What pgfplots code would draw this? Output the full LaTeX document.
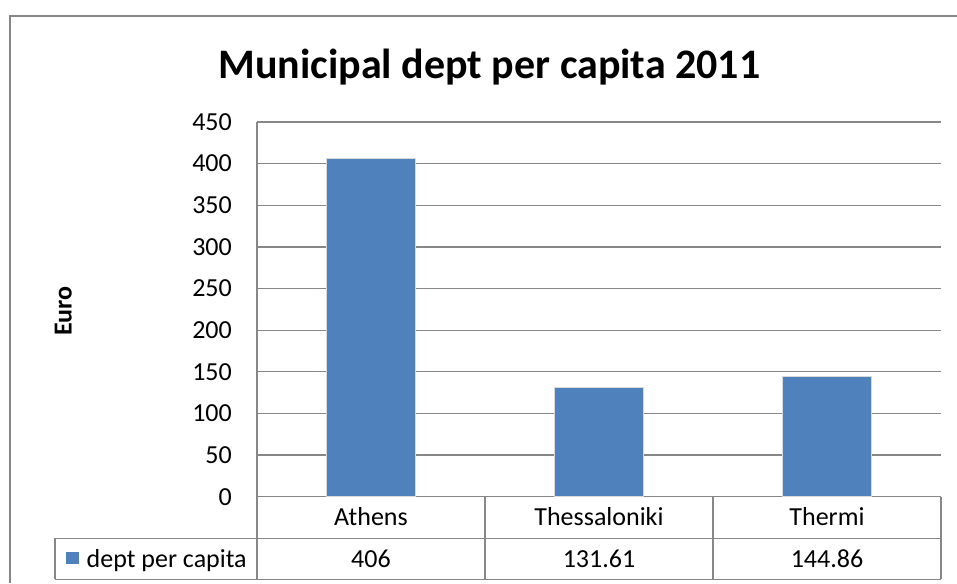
\documentclass[border=0pt]{standalone}
\usepackage{fontspec}
\setmainfont{Carlito}
\usepackage{pgfplots}
\pgfplotsset{compat=1.18}
\definecolor{barblue}{HTML}{4F81BD}
\definecolor{gridgray}{HTML}{878787}
\begin{document}
\begin{tikzpicture}[x=1pt,y=1pt]
\fill[white] (0,0) rectangle (957,583);
\draw[gridgray, line width=2pt] (10,0) -- (10,566.5) -- (957,566.5);
\node[font=\fontsize{42}{50}\selectfont\bfseries, anchor=base, inner sep=0pt] at (489.5,504.7) {Municipal dept per capita 2011};
\begin{axis}[at={(257pt,86.3pt)}, anchor=south west, scale only axis,
  width=684pt, height=374.7pt,
  xmin=-0.5, xmax=2.5, ymin=0, ymax=450, ytick={0,50,...,450},
  xtick={0,1,2}, xticklabels={Athens,Thessaloniki,Thermi},
  axis x line*=bottom, axis y line*=left,
  axis line style={gridgray, line width=1.3pt, -},
  ymajorgrids, grid style={gridgray, line width=1.3pt},
  major tick length=0pt,
  tick label style={font=\fontsize{26}{30}\selectfont},
  /pgf/number format/assume math mode=true,
  yticklabel style={anchor=east, inner sep=0pt, xshift=-25pt},
  xticklabel style={anchor=base, inner sep=0pt, yshift=-28.3pt},
  clip=false]
\addplot[ybar, bar width=89pt, fill=barblue, draw=black!15, line width=1pt]
  coordinates {(0,406) (1,131.61) (2,144.86)};
\end{axis}
% data table
\draw[gridgray, line width=1.3pt] (55,44.7) -- (941,44.7);
\draw[gridgray, line width=1.3pt] (55,3.7) -- (941,3.7);
\draw[gridgray, line width=1.3pt] (55,3.7) -- (55,44.7);
\draw[gridgray, line width=1.3pt] (257,3.7) -- (257,86.3);
\draw[gridgray, line width=1.3pt] (485,3.7) -- (485,86.3);
\draw[gridgray, line width=1.3pt] (713,3.7) -- (713,86.3);
\draw[gridgray, line width=1.6pt] (941,3.7) -- (941,86.3);
\fill[barblue] (66,19) rectangle (79,31);
\begin{scope}[font=\fontsize{26}{30}\selectfont]
\node[anchor=base west, inner sep=0pt] at (86.5,15.7) {dept per capita};
\node[anchor=base, inner sep=0pt] at (371,15.7) {406};
\node[anchor=base, inner sep=0pt] at (599,15.7) {131.61};
\node[anchor=base, inner sep=0pt] at (827,15.7) {144.86};
\end{scope}
\node[rotate=90, anchor=base, inner sep=0pt, font=\fontsize{26}{30}\selectfont\bfseries] at (71.7,272) {Euro};
\pgfresetboundingbox
\path[use as bounding box] (0,0) rectangle (957,583);
\end{tikzpicture}
\end{document}
